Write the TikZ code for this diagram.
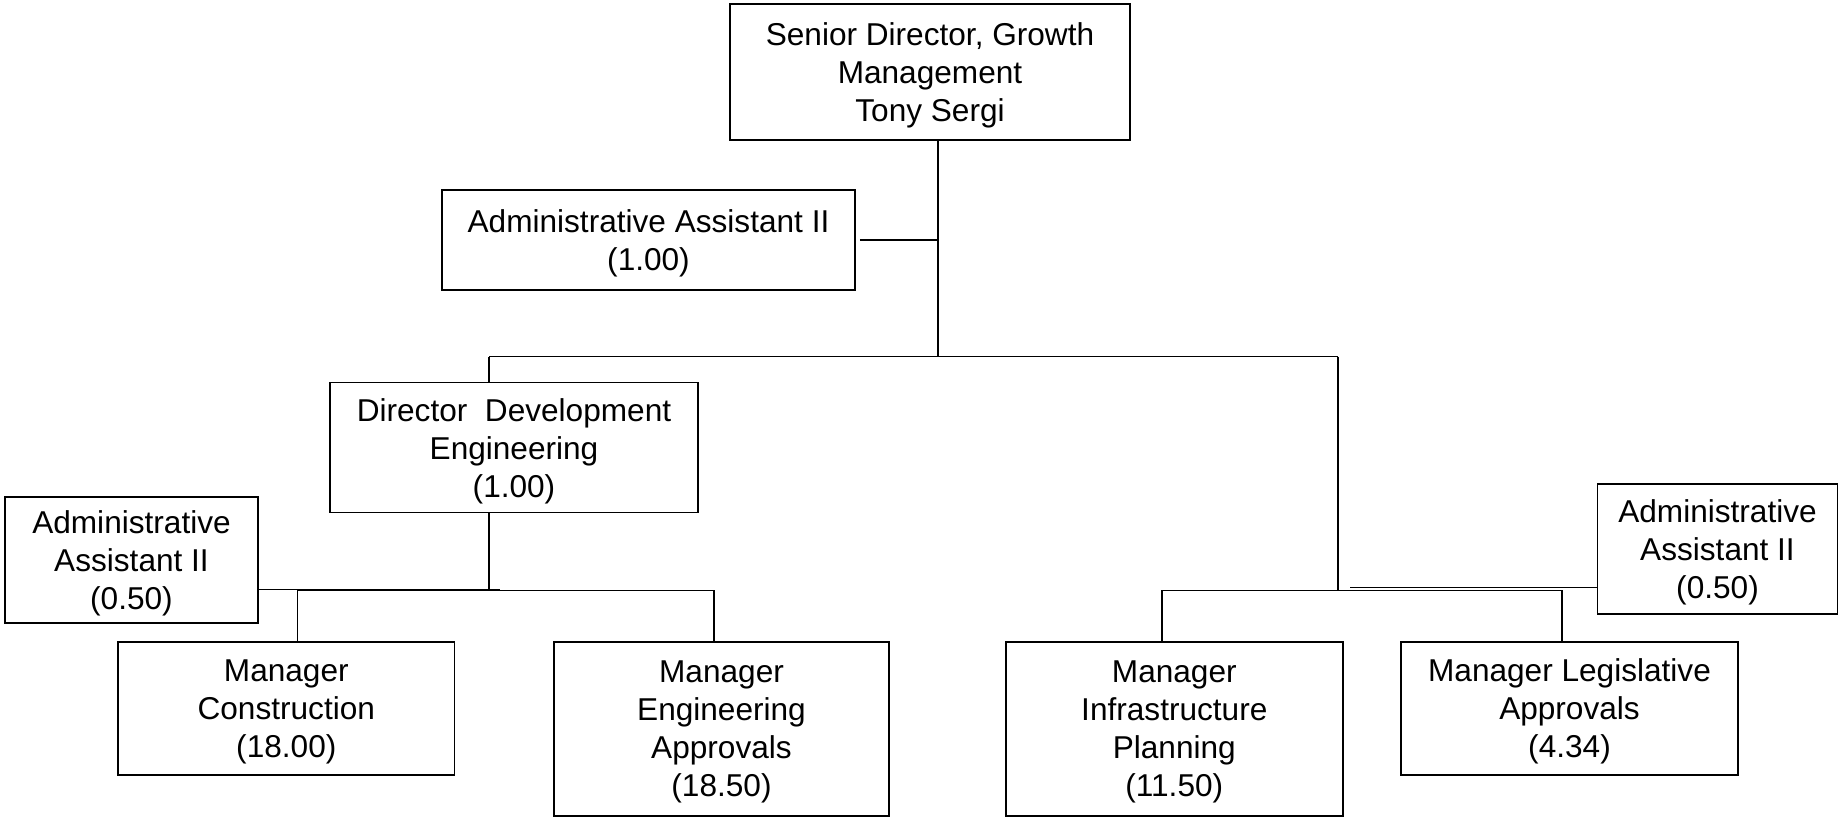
\documentclass[tikz,border=0pt]{standalone}
\usepackage{fontspec}
\setmainfont{Liberation Sans}
\tikzset{
  orgbox/.style={draw, line width=1.5pt, align=center, inner sep=0pt,
    text depth=-2.5pt, font=\fontsize{31.6}{38}\selectfont},
  orgline/.style={line width=1.5pt}
}
\begin{document}
\begin{tikzpicture}[x=1pt,y=1pt,yscale=-1,xscale=1]
\useasboundingbox (0,0) rectangle (1839,817);
% Text Node
\node (sendir) at (930,72) [orgbox, minimum width=400, minimum height=136] {Senior Director, Growth\\Management\\Tony Sergi};
% Text Node
\node (admin1) at (648.5,240) [orgbox, minimum width=413, minimum height=100] {Administrative Assistant II\\(1.00)};
% Text Node
\node (devdir) at (514,447.7) [orgbox, minimum width=368, minimum height=130] {Director\ \ Development\\Engineering\\(1.00)};
% Text Node
\node (admin2) at (131.5,560) [orgbox, minimum width=253, minimum height=126] {Administrative\\Assistant II\\(0.50)};
% Text Node
\node (mgrcon) at (286.3,708.5) [orgbox, minimum width=336.5, minimum height=133] {Manager\\Construction\\(18.00)};
% Text Node
\node (mgreng) at (721.5,729) [orgbox, minimum width=335, minimum height=174] {Manager\\Engineering\\Approvals\\(18.50)};
% Text Node
\node (mgrinf) at (1174.3,729) [orgbox, minimum width=337, minimum height=174] {Manager\\Infrastructure\\Planning\\(11.50)};
% Text Node
\node (mgrleg) at (1569.5,708.5) [orgbox, minimum width=337, minimum height=133] {Manager Legislative\\Approvals\\(4.34)};
% Text Node
\node (admin3) at (1717.5,549) [orgbox, minimum width=240, minimum height=130] {Administrative\\Assistant II\\(0.50)};

% Joints
\coordinate (hub) at (938,356.7);
\coordinate (hubL) at (489,356.7);
\coordinate (hubR) at (1338,356.7);
\coordinate (jL) at (489,589.3);
\coordinate (jR) at (1350,587.7);

%Straight Lines
\draw [orgline] ([xshift=8pt]sendir.south) -- (hub);
\draw [orgline] ([xshift=4pt]admin1.east) -- (admin1.east -| hub);
\draw [orgline] (hubL) -- (hubR);
\draw [orgline] (hubL) -- (hubL |- devdir.north);
\draw [orgline] (hubL |- devdir.south) -- (jL);
\draw [orgline] (admin2.east |- jL) -- ([xshift=11pt]jL);
\draw [orgline] ([xshift=11.3pt]mgrcon.north) -- ++(0,-51) -| ([xshift=-7.5pt]mgreng.north);
\draw [orgline] (hubR) -- ++(0,233.3);
\draw [orgline] ([xshift=-12.3pt]mgrinf.north) -- ++(0,-51) -| ([xshift=-7.5pt]mgrleg.north);
\draw [orgline] (jR) -- (jR -| admin3.west);
\end{tikzpicture}
\end{document}
